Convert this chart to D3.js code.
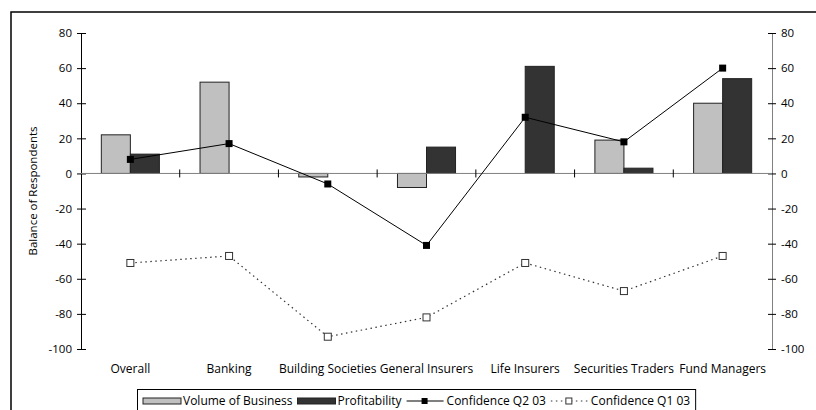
<!DOCTYPE html>
<html>
<head>
<meta charset="utf-8">
<script src="https://cdn.jsdelivr.net/npm/d3@7"></script>
<style>
  body { margin: 0; background: #fff; }
  svg text { font-family: "Open Sans", sans-serif; font-size: 12px; fill: #000; }
</style>
</head>
<body>
<svg id="drawing_region"></svg>
<script>
const categories = ['Overall', 'Banking', 'Building Societies', 'General Insurers', 'Life Insurers', 'Securities Traders', 'Fund Managers'];
const volume = [22, 52, -2, -8, 0, 19, 40];
const profitability = [11, 0, 0, 15, 61, 3, 54];
const confQ2 = [8, 17, -6, -41, 32, 18, 60];
const confQ1 = [-51, -47, -93, -82, -51, -67, -47];
const yTicks = [80, 60, 40, 20, 0, -20, -40, -60, -80, -100];
const legendLabels = ['Volume of Business', 'Profitability', 'Confidence Q2 03', 'Confidence Q1 03'];

const width = 816, height = 410;
const svg = d3.select('#drawing_region').attr('width', width).attr('height', height);

// chart frame (runs off the right and bottom edges)
svg.append('rect')
  .attr('x', 11).attr('y', 12).attr('width', 830).attr('height', 420)
  .attr('fill', 'none').attr('stroke', '#000').attr('stroke-width', 1.5);

const plot = { left: 81, right: 772, top: 33, bottom: 349 };

const x = d3.scaleBand().domain(categories).range([plot.left, plot.right]).padding(0);
const xs = d3.scaleBand().domain(['vol', 'prof']).range([0, x.bandwidth()]).paddingInner(0).paddingOuter(0.7);
const y = d3.scaleLinear().domain([-100, 80]).range([plot.bottom, plot.top]);

// left axis
const yAxisL = svg.append('g')
  .attr('transform', `translate(${plot.left},0)`)
  .call(d3.axisLeft(y).tickValues(yTicks).tickFormat(d => String(d)).tickSize(4).tickPadding(5).tickSizeOuter(0));
yAxisL.select('.domain').attr('stroke', '#000');
yAxisL.selectAll('.tick line').attr('x1', 5).attr('x2', -4);
yAxisL.selectAll('.tick text').style('font-size', '11.5px');

// right axis
const yAxisR = svg.append('g')
  .attr('transform', `translate(${plot.right},0)`)
  .call(d3.axisRight(y).tickValues(yTicks).tickFormat(d => String(d)).tickSize(4).tickPadding(5).tickSizeOuter(0));
yAxisR.select('.domain').attr('stroke', '#808080');
yAxisR.selectAll('.tick line').attr('x1', -4).attr('x2', 4).attr('stroke', '#000');
yAxisR.selectAll('.tick text').style('font-size', '11.5px');

// y title
svg.append('text')
  .attr('transform', `translate(37,${(plot.top + plot.bottom) / 2}) rotate(-90)`)
  .attr('text-anchor', 'middle')
  .style('font-size', '11.5px')
  .text('Balance of Respondents');

// bars
const bars = [
  { key: 'vol', values: volume, fill: '#c0c0c0' },
  { key: 'prof', values: profitability, fill: '#333333' }
];
bars.forEach(s => {
  svg.append('g').selectAll('rect')
    .data(categories.map((c, i) => ({ c, v: s.values[i] })).filter(d => d.v !== 0))
    .join('rect')
    .attr('x', d => x(d.c) + xs(s.key))
    .attr('width', xs.bandwidth())
    .attr('y', d => y(Math.max(0, d.v)))
    .attr('height', d => Math.abs(y(d.v) - y(0)))
    .attr('fill', s.fill)
    .attr('stroke', '#222')
    .attr('stroke-width', 1);
});

// zero line + category ticks
svg.append('line')
  .attr('x1', plot.left).attr('x2', plot.right)
  .attr('y1', y(0)).attr('y2', y(0))
  .attr('stroke', '#808080').attr('stroke-width', 1);
svg.append('g').selectAll('line')
  .data(categories.slice(1))
  .join('line')
  .attr('x1', d => x(d)).attr('x2', d => x(d))
  .attr('y1', y(0) - 4).attr('y2', y(0) + 4)
  .attr('stroke', '#000');

// category labels
svg.append('g').selectAll('text')
  .data(categories)
  .join('text')
  .attr('x', d => x(d) + x.bandwidth() / 2)
  .attr('y', 373)
  .attr('text-anchor', 'middle')
  .text(d => d);

const cx = c => x(c) + x.bandwidth() / 2;

// Confidence Q1 (dotted, open squares)
svg.append('path')
  .datum(confQ1)
  .attr('d', d3.line().x((d, i) => cx(categories[i])).y(d => y(d)))
  .attr('fill', 'none').attr('stroke', '#333').attr('stroke-width', 1.2)
  .attr('stroke-dasharray', '1.5,3.5');
svg.append('g').selectAll('rect')
  .data(confQ1)
  .join('rect')
  .attr('x', (d, i) => cx(categories[i]) - 3.5).attr('y', d => y(d) - 3.5)
  .attr('width', 7).attr('height', 7)
  .attr('fill', '#fff').attr('stroke', '#333').attr('stroke-width', 1);

// Confidence Q2 (solid, filled squares)
svg.append('path')
  .datum(confQ2)
  .attr('d', d3.line().x((d, i) => cx(categories[i])).y(d => y(d)))
  .attr('fill', 'none').attr('stroke', '#000').attr('stroke-width', 1);
svg.append('g').selectAll('rect')
  .data(confQ2)
  .join('rect')
  .attr('x', (d, i) => cx(categories[i]) - 3.5).attr('y', d => y(d) - 3.5)
  .attr('width', 7).attr('height', 7)
  .attr('fill', '#000');

// legend
const legend = svg.append('g');
const legBox = legend.append('rect')
  .attr('x', 137.5).attr('y', 389.5).attr('height', 40)
  .attr('fill', '#fff').attr('stroke', '#000').attr('stroke-width', 1);
let lx = 143;
const ly = 401;
legendLabels.forEach((lab, i) => {
  if (i < 2) {
    legend.append('rect')
      .attr('x', lx).attr('y', ly - 3).attr('width', 38).attr('height', 6)
      .attr('fill', i === 0 ? '#c0c0c0' : '#333333')
      .attr('stroke', '#222').attr('stroke-width', 1);
  } else {
    legend.append('line')
      .attr('x1', lx).attr('x2', lx + 37).attr('y1', ly).attr('y2', ly)
      .attr('stroke', i === 2 ? '#000' : '#333')
      .attr('stroke-dasharray', i === 2 ? null : '1.5,3.5')
      .attr('stroke-width', i === 2 ? 1 : 1.2);
    legend.append('rect')
      .attr('x', lx + 15).attr('y', ly - 3).attr('width', 6).attr('height', 6)
      .attr('fill', i === 2 ? '#000' : '#fff')
      .attr('stroke', i === 2 ? 'none' : '#333');
  }
  lx += 40;
  const t = legend.append('text')
    .attr('x', lx).attr('y', ly + 4)
    .text(lab);
  lx += t.node().getComputedTextLength() + 5;
});
legBox.attr('width', lx - 137);
</script>
</body>
</html>
